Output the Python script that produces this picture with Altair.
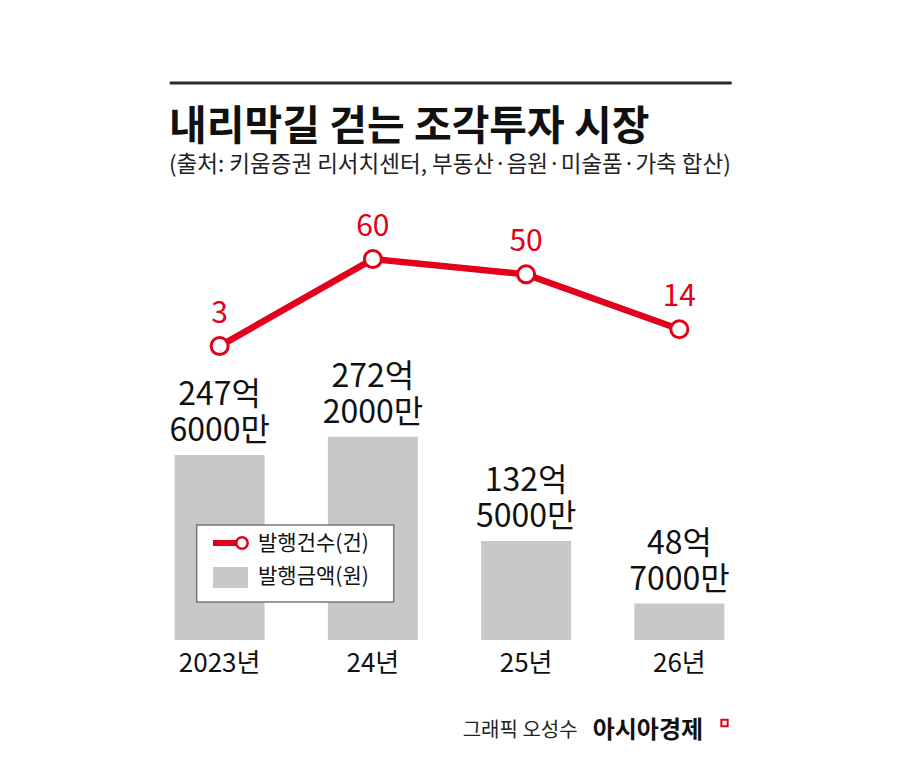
import pandas as pd
import altair as alt

# data
years = ["2023년", "24년", "25년", "26년"]
amounts = [247.6, 272.2, 132.5, 48.7]          # 발행금액 (억 원)
amount_labels = ["247억\n6000만", "272억\n2000만", "132억\n5000만", "48억\n7000만"]
counts = [3, 60, 50, 14]                          # 발행건수 (건)

title_txt = "내리막길 걷는 조각투자 시장"
subtitle_txt = "(출처: 키움증권 리서치센터, 부동산·음원·미술품·가축 합산)"
legend_txt = ["발행건수(건)", "발행금액(원)"]
credit_txt = "그래픽 오성수"
brand_txt = "아시아경제"

red, gray = "#e2001a", "#c8c8c8"
font_kr = "Noto Sans CJK KR"

df = pd.DataFrame({"연도": years, "금액": amounts, "금액표시": amount_labels, "건수": counts})

x = alt.X("연도:N", sort=years, title=None,
          scale=alt.Scale(paddingInner=0, paddingOuter=0),
          axis=alt.Axis(domain=False, ticks=False, labelAngle=0, labelPadding=10,
                        labelFont=font_kr, labelFontSize=26, labelColor="#111"))

bar_y = alt.Y("금액:Q", scale=alt.Scale(domain=[0, 589], nice=False, zero=True), axis=None)
line_y = alt.Y("건수:Q", scale=alt.Scale(domain=[-189.6, 98.7], nice=False, zero=False), axis=None)

bars = alt.Chart(df).mark_bar(width=90, color=gray).encode(x=x, y=bar_y)
# 두 줄짜리 라벨: 마지막 줄이 막대 위에 오도록 한 줄 높이만큼 더 올림
bar_text = alt.Chart(df).mark_text(
    baseline="bottom", dy=-43, lineBreak="\n", lineHeight=36,
    font=font_kr, fontSize=32, color="#111"
).encode(x=x, y=bar_y, text="금액표시:N")

base = alt.layer(bars, bar_text)

line = alt.Chart(df).mark_line(color=red, strokeWidth=6.5).encode(x=x, y=line_y)
pts = alt.Chart(df).mark_point(
    shape="circle", filled=True, fill="white", stroke=red, strokeWidth=3, size=290, opacity=1
).encode(x=x, y=line_y)
pt_text = alt.Chart(df).mark_text(
    baseline="alphabetic", dy=-23, font=font_kr, fontSize=30, color=red
).encode(x=x, y=line_y, text="건수:Q")

lines = alt.layer(line, pts, pt_text)

# 제목, 출처
one = pd.DataFrame({"t": [title_txt]})
rule_top = alt.Chart(one).mark_rule(color="#2a2a2a", strokeWidth=3).encode(
    x=alt.value(26.7), x2=alt.value(588.7), y=alt.value(-117))
title = alt.Chart(one).mark_text(
    align="left", baseline="middle", font=font_kr, fontSize=41, fontWeight="bold", color="#111"
).encode(x=alt.value(26), y=alt.value(-72), text="t:N")
subtitle = alt.Chart(pd.DataFrame({"t": [subtitle_txt]})).mark_text(
    align="left", baseline="middle", font=font_kr, fontSize=22.5, color="#222"
).encode(x=alt.value(26), y=alt.value(-35), text="t:N")

# 범례
leg_box = alt.Chart(one).mark_rect(fill="white", stroke="#777", strokeWidth=1.5).encode(
    x=alt.value(53.7), x2=alt.value(250.7), y=alt.value(325), y2=alt.value(402))
leg_line = alt.Chart(one).mark_rule(color=red, strokeWidth=6).encode(
    x=alt.value(70), x2=alt.value(98), y=alt.value(343))
leg_pt = alt.Chart(one).mark_point(
    shape="circle", filled=True, fill="white", stroke=red, strokeWidth=2.5, size=130, opacity=1
).encode(x=alt.value(99), y=alt.value(343))
leg_sq = alt.Chart(one).mark_rect(fill=gray).encode(
    x=alt.value(70), x2=alt.value(105), y=alt.value(367), y2=alt.value(388))
leg_text = alt.Chart(pd.DataFrame({"t": legend_txt, "yy": [344, 377]})).mark_text(
    align="left", baseline="middle", font=font_kr, fontSize=21, color="#111"
).encode(x=alt.value(115), y=alt.Y("yy:Q", scale=None), text="t:N")

# 크레딧
credit = alt.Chart(pd.DataFrame({"t": [credit_txt]})).mark_text(
    align="left", baseline="middle", font=font_kr, fontSize=20, color="#222"
).encode(x=alt.value(319.7), y=alt.value(531), text="t:N")
brand = alt.Chart(pd.DataFrame({"t": [brand_txt]})).mark_text(
    align="left", baseline="middle", font=font_kr, fontSize=24, fontWeight="bold", color="#111"
).encode(x=alt.value(449.7), y=alt.value(531), text="t:N")
brand_mark = alt.Chart(one).mark_point(
    shape="square", filled=False, stroke=red, strokeWidth=2, size=40, opacity=1
).encode(x=alt.value(581.5), y=alt.value(523))

chart = alt.layer(
    base, lines,
    rule_top, title, subtitle,
    leg_box, leg_line, leg_pt, leg_sq, leg_text,
    credit, brand, brand_mark,
).resolve_scale(y="independent").properties(
    width=613, height=440,
    autosize=alt.AutoSizeParams(type="none"),
    padding={"left": 135, "top": 192, "right": 136, "bottom": 128},
).configure(background="white").configure_view(strokeWidth=0)

chart.save("out.html", embed_options={"renderer": "svg", "actions": False})
